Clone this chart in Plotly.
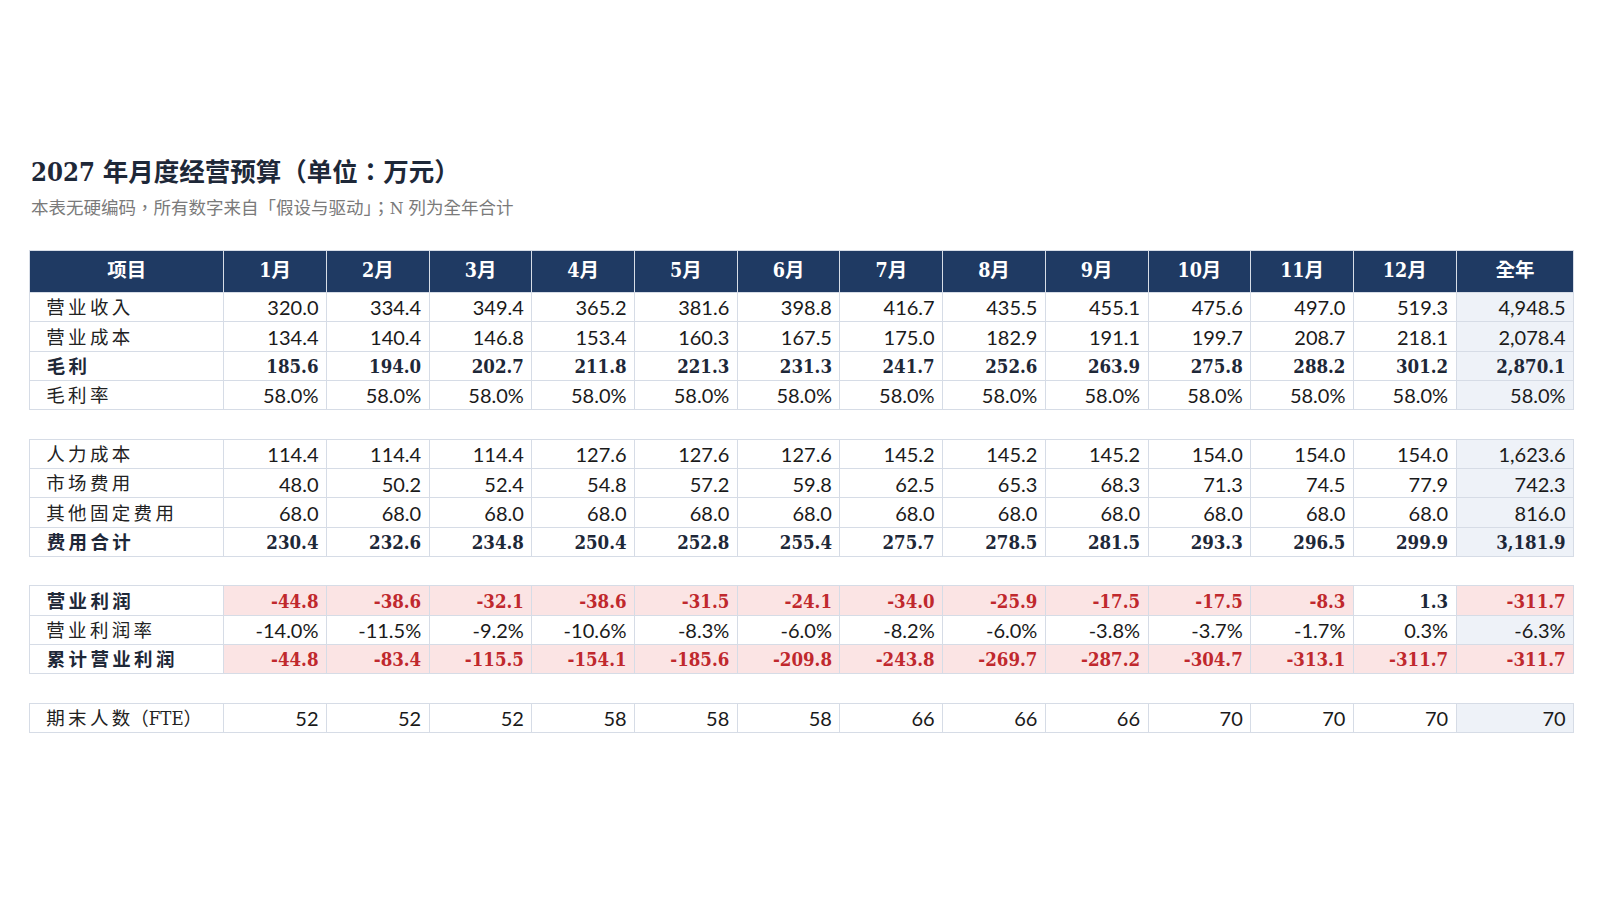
import plotly.graph_objects as go

# column labels
months = ["1月", "2月", "3月", "4月", "5月", "6月", "7月", "8月", "9月", "10月", "11月", "12月"]
header_cols = ["项目"] + months + ["全年"]

# values per row: 12 months then full year
revenue = [320.0, 334.4, 349.4, 365.2, 381.6, 398.8, 416.7, 435.5, 455.1, 475.6, 497.0, 519.3, 4948.5]
cogs = [134.4, 140.4, 146.8, 153.4, 160.3, 167.5, 175.0, 182.9, 191.1, 199.7, 208.7, 218.1, 2078.4]
gross = [185.6, 194.0, 202.7, 211.8, 221.3, 231.3, 241.7, 252.6, 263.9, 275.8, 288.2, 301.2, 2870.1]
gross_margin = [58.0] * 13
staff = [114.4, 114.4, 114.4, 127.6, 127.6, 127.6, 145.2, 145.2, 145.2, 154.0, 154.0, 154.0, 1623.6]
marketing = [48.0, 50.2, 52.4, 54.8, 57.2, 59.8, 62.5, 65.3, 68.3, 71.3, 74.5, 77.9, 742.3]
other_fixed = [68.0] * 12 + [816.0]
opex = [230.4, 232.6, 234.8, 250.4, 252.8, 255.4, 275.7, 278.5, 281.5, 293.3, 296.5, 299.9, 3181.9]
op_profit = [-44.8, -38.6, -32.1, -38.6, -31.5, -24.1, -34.0, -25.9, -17.5, -17.5, -8.3, 1.3, -311.7]
op_margin = [-14.0, -11.5, -9.2, -10.6, -8.3, -6.0, -8.2, -6.0, -3.8, -3.7, -1.7, 0.3, -6.3]
cum_profit = [-44.8, -83.4, -115.5, -154.1, -185.6, -209.8, -243.8, -269.7, -287.2, -304.7, -313.1, -311.7, -311.7]
fte = [52, 52, 52, 58, 58, 58, 66, 66, 66, 70, 70, 70, 70]

# (label, values, kind, bold, red_if_negative); None = blank spacer row
rows = [
    ("营业收入", revenue, "num", False, False),
    ("营业成本", cogs, "num", False, False),
    ("毛利", gross, "num", True, False),
    ("毛利率", gross_margin, "pct", False, False),
    None,
    ("人力成本", staff, "num", False, False),
    ("市场费用", marketing, "num", False, False),
    ("其他固定费用", other_fixed, "num", False, False),
    ("费用合计", opex, "num", True, False),
    None,
    ("营业利润", op_profit, "num", True, True),
    ("营业利润率", op_margin, "pct", False, False),
    ("累计营业利润", cum_profit, "num", True, True),
    None,
    ("期末人数", fte, "int", False, False),
]

NAVY = "#1f3a63"
LINE = "#d6dce6"
YEAR_FILL = "#eef2f8"
NEG_FILL = "#fbe4e4"
RED = "#c0282d"
DARK = "#1e2838"
SANS = "Lato, Noto Sans CJK TC"
SERIF = "DejaVu Serif Condensed, DejaVu Serif, Noto Sans CJK TC"

# screenshot comes out ~0.978 of css px, and body keeps an 8px margin
S = 0.978
OFF = 8
FW, FH = 1620, 904
row_h = 28.7 / S
head_h = 41 / S
col_w = [190] + [100.5] * 12 + [115]


def fx(px):
    return (px / S - OFF) / FW


def fy(px):
    return 1 - (px / S - OFF) / FH


def fmt(v, kind):
    if kind == "pct":
        return f"{v:.1f}%"
    if kind == "int":
        return f"{v:d}"
    return f"{v:,.1f}"


def row_table(top_px, height_px, values, fills, colors, families, sizes, weight, align, height):
    return go.Table(
        domain=dict(x=[fx(29), fx(1540)], y=[fy(top_px + height_px + 6), fy(top_px)]),
        columnwidth=col_w,
        header=dict(values=values, fill_color=fills,
                    line=dict(color=LINE, width=1), align=align, height=height,
                    font=dict(family=families, size=sizes, color=colors, weight=weight)),
        cells=dict(values=[]),
    )


fig = go.Figure()

# column titles (the <b> tag also drops the text to the middle of the taller band)
fig.add_trace(row_table(245, 41, [f"<b>{c}</b>" for c in header_cols], NAVY, "white",
                        SERIF, 19.5, "normal", "center", head_h))

aligns = ["left"] + ["right"] * 13
for i, r in enumerate(rows):
    if r is None:
        continue
    label, vals, kind, bold, red = r
    top = 286 + 28.7 * i
    lab = "\u2009".join(label)
    if label == "期末人数":
        lab += "（FTE）"
    text = [" \u2009" + lab]
    fills = ["white"]
    colors = [DARK if bold else "#222222"]
    for j, v in enumerate(vals):
        neg = red and v < 0
        text.append(fmt(v, kind))
        fills.append(NEG_FILL if neg else (YEAR_FILL if j == 12 else "white"))
        colors.append(RED if neg else (DARK if bold else "#1a1a1a"))
    families = [SERIF] + [SERIF if bold else SANS] * 13
    sizes = [18.5] + [18.5 if bold else 20] * 13
    fig.add_trace(row_table(top, 28.7, text, fills, colors, families, sizes,
                            "bold" if bold else "normal", aligns, row_h))

fig.add_annotation(x=fx(28), y=fy(168), xref="paper", yref="paper",
                   xanchor="left", yanchor="middle", showarrow=False,
                   text="2027 年月度经营预算（单位：万元）",
                   font=dict(family=SERIF, size=25.5, color=DARK, weight="bold"))
fig.add_annotation(x=fx(28), y=fy(203), xref="paper", yref="paper",
                   xanchor="left", yanchor="middle", showarrow=False,
                   text="本表无硬编码，所有数字来自「假设与驱动」；N 列为全年合计",
                   font=dict(family=SERIF, size=17.5, color="#7a7a7a"))

fig.update_layout(width=FW, height=FH, margin=dict(l=0, r=0, t=0, b=0),
                  paper_bgcolor="white", plot_bgcolor="white")

fig.write_html("out.html")
